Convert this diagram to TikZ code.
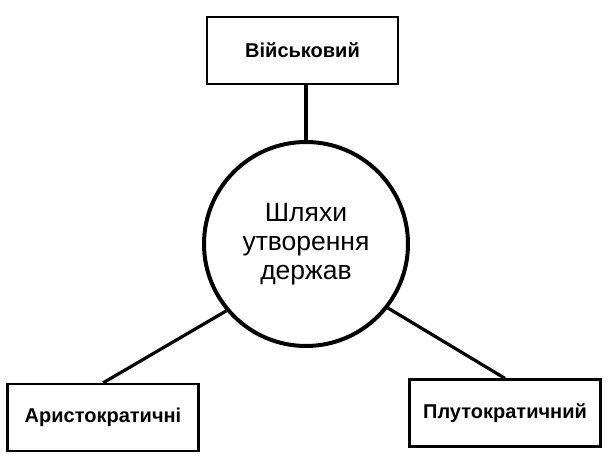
\documentclass[tikz,border=0pt]{standalone}
\usepackage{fontspec}
\setmainfont{Liberation Sans}
\usetikzlibrary{positioning}
\begin{document}
\begin{tikzpicture}[x=1pt, y=-1pt,
    box/.style={rectangle, draw, line width=2.2pt, minimum width=191pt,
                minimum height=67pt, font=\fontsize{20}{23}\selectfont\bfseries},
    hub/.style={circle, draw, line width=4pt, minimum size=204pt,
                align=center, font=\fontsize{26.5}{29}\selectfont},
    link/.style={line width=3.2pt}
  ]
  \useasboundingbox (0,0) rectangle (611,462);
  \node[hub] (hub) at (306,244) {Шляхи\\утворення\\держав};
  \node[box] (mil) at (302.5,50.5) {Військовий};
  \node[box] (ari) at (103,417.5) {Аристократичні};
  \node[box] (plu) at (505,413) {Плутократичний};
  \draw[link, line width=4pt] (mil.south -| hub.north) -- (hub.north);
  \draw[link] (ari.north) -- (hub.220);
  \draw[link] (plu.north) -- (hub.322);
\end{tikzpicture}
\end{document}
